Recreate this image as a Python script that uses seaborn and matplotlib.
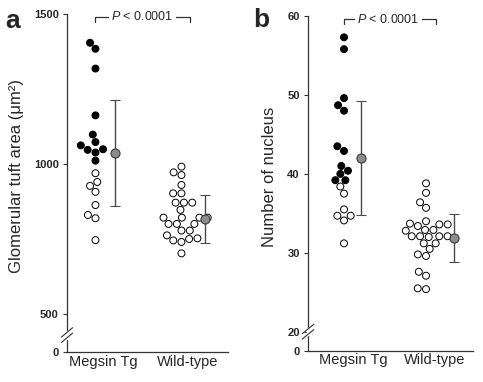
import matplotlib
matplotlib.use("Agg")
import matplotlib.pyplot as plt
import seaborn as sns
from pandas import DataFrame

groups = ["Megsin Tg", "Wild-type"]

# panel a: glomerular tuft area (um2)
area_tg_filled = [1404, 1384, 1318, 1162, 1098, 1073, 1062, 1049, 1047, 1038, 1011]
area_tg_open = [969, 940, 927, 907, 863, 830, 819, 746]
area_wt = [991, 972, 963, 930, 902, 902, 871, 871, 871, 847, 821, 821, 821, 821,
           800, 800, 800, 778, 778, 762, 752, 750, 745, 740, 702]
area_mean = [1036, 817]
area_sd = [176, 79]

# panel b: number of nucleus
nuc_tg_filled = [57.3, 55.8, 49.6, 48.7, 48.0, 43.5, 42.9, 41.0, 40.4, 40.0, 39.2, 39.2]
nuc_tg_open = [38.4, 37.5, 35.5, 34.7, 34.7, 34.1, 31.2]
nuc_wt = [38.8, 37.6, 36.4, 35.7, 34.0, 33.6, 33.6, 33.7, 33.4, 32.9, 32.9, 32.8, 32.1,
          32.0, 32.1, 32.1, 32.1, 31.2, 31.2, 30.5, 29.8, 29.6, 27.6, 27.1, 25.5, 25.4]
nuc_mean = [42.0, 31.9]
nuc_sd = [7.2, 3.05]

p_text = r"$\mathit{P}$ < 0.0001"


def make_frame(tg_filled, tg_open, wt):
    rows = []
    for v in tg_filled:
        rows.append((groups[0], v, "filled"))
    for v in tg_open:
        rows.append((groups[0], v, "open"))
    for v in wt:
        rows.append((groups[1], v, "open"))
    return DataFrame(rows, columns=["group", "value", "status"])


def draw_panel(ax, frame, mean, sd, ylim, ticks, ticklabels, ylabel, xlim,
               xticks, mean_x, bracket, break_y, label_x, letter, letter_xy):
    sns.swarmplot(data=frame, x="group", y="value", hue="status", order=groups,
                  hue_order=["filled", "open"], palette={"filled": "black", "open": "white"},
                  edgecolor="black", linewidth=0.7, size=5.0, legend=False, ax=ax)
    ax.errorbar(mean_x, mean, yerr=sd, fmt="o", ms=6.5, mfc="#8c8c8c", mec="#3a3a3a",
                mew=0.8, ecolor="#4a4a4a", elinewidth=1.0, capsize=3.5, capthick=1.0, zorder=3)

    ax.set_xlim(*xlim)
    ax.set_ylim(*ylim)
    ax.set_yticks(ticks)
    ax.set_yticklabels(ticklabels, fontweight="bold", fontsize=8)
    ax.set_xticks(xticks)
    ax.set_xticklabels(groups, fontsize=10.5)
    ax.tick_params(axis="x", length=0, pad=2)
    ax.tick_params(axis="y", length=3, width=0.8, pad=3, color="#333333")
    ax.set_xlabel("")
    ax.set_ylabel(ylabel, fontsize=12)
    ax.yaxis.set_label_coords(label_x, 0.52)
    for side in ["top", "right"]:
        ax.spines[side].set_visible(False)
    for side in ["left", "bottom"]:
        ax.spines[side].set_linewidth(0.9)
        ax.spines[side].set_color("#333333")

    # significance bracket
    x0, x1, y_line, y_tick, x_txt = bracket
    ax.plot([x0, x0, x1, x1], [y_tick, y_line, y_line, y_tick], color="#333333", lw=0.9,
            clip_on=False)
    ax.text(x_txt, y_line, p_text, ha="center", va="center", fontsize=9,
            bbox=dict(facecolor="white", edgecolor="none", pad=1.5))

    # axis break marks
    tr = ax.transAxes
    ax.plot([0, 0], [break_y - 0.008, break_y + 0.008], color="white", lw=2.5,
            transform=tr, clip_on=False, zorder=5)
    for dy in (-0.008, 0.008):
        ax.plot([-0.035, 0.035], [break_y + dy - 0.014, break_y + dy + 0.014],
                color="#333333", lw=0.8, transform=tr, clip_on=False, zorder=6)

    ax.figure.text(letter_xy[0], letter_xy[1], letter, fontsize=19, fontweight="bold",
                   ha="center", va="baseline")


sns.set_style("ticks")
plt.rcParams["font.family"] = ["Liberation Sans", "DejaVu Sans"]
plt.rcParams["mathtext.fontset"] = "custom"
plt.rcParams["mathtext.it"] = "Liberation Sans:italic"
plt.rcParams["mathtext.rm"] = "Liberation Sans"

fig = plt.figure(figsize=(4.83, 3.82), dpi=100)
ax_a = fig.add_axes([0.1387, 0.0785, 0.3333, 0.8849])
ax_b = fig.add_axes([0.6377, 0.0819, 0.3416, 0.8762])

draw_panel(ax_a, make_frame(area_tg_filled, area_tg_open, area_wt), area_mean, area_sd,
           ylim=(373, 1500), ticks=[373, 500, 1000, 1500],
           ticklabels=["0", "500", "1000", "1500"],
           ylabel="Glomerular tuft area (μm²)", xlim=(-0.331, 1.541),
           xticks=[0.095, 1.07], mean_x=[0.223, 1.27],
           bracket=(0.0, 1.1, 1490, 1473, 0.547), break_y=0.05, label_x=-0.27,
           letter="a", letter_xy=(13 / 483, 1 - 28 / 382))

draw_panel(ax_b, make_frame(nuc_tg_filled, nuc_tg_open, nuc_wt), nuc_mean, nuc_sd,
           ylim=(17.6, 60), ticks=[17.6, 20, 30, 40, 50, 60],
           ticklabels=["0", "20", "30", "40", "50", "60"],
           ylabel="Number of nucleus", xlim=(-0.439, 1.573),
           xticks=[0.116, 1.104], mean_x=[0.207, 1.341],
           bracket=(0.0, 1.118, 59.6, 59.0, 0.543), break_y=0.057, label_x=-0.19,
           letter="b", letter_xy=(261 / 483, 1 - 27 / 382))

fig.savefig("out.png", dpi=100)
